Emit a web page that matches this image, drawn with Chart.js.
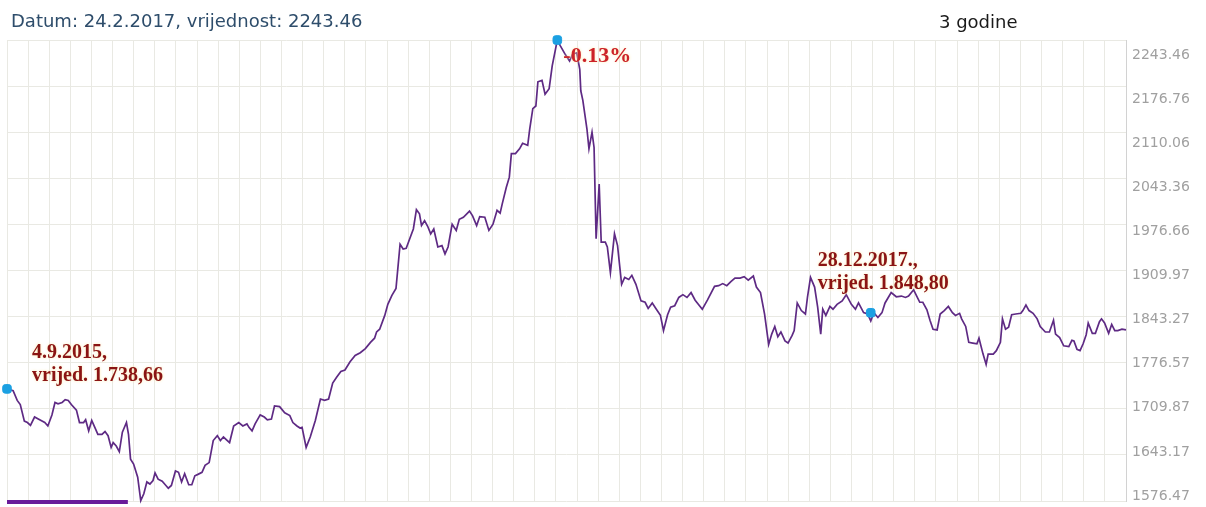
<!DOCTYPE html>
<html>
<head>
<meta charset="utf-8">
<script src="https://cdn.jsdelivr.net/npm/chart.js@4.4.1/dist/chart.umd.min.js"></script>
<style>
  html, body { margin: 0; padding: 0; background: #fff; }
  #wrap { width: 1206px; height: 507px; position: relative; }
</style>
</head>
<body>
<div id="wrap"><canvas id="chart"></canvas></div>
<script>
// days since 4.9.2015 (3 year window)
const days = [
  0,6,10,13,17,20,23,27,32,37,40,44,47,50,54,57,60,63,68,71,75,77,80,83,86,89,93,96,99,102,
  104,107,110,113,117,119,121,124,128,131,134,137,140,143,145,148,152,155,158,161,165,168,171,174,178,181,184,187,191,194,
  198,202,206,209,212,218,222,227,231,235,237,240,243,248,252,255,259,262,267,272,277,280,284,287,289,293,
  297,302,307,311,315,319,323,327,331,336,341,346,351,356,360,362,365,370,373,377,381,385,388,391,395,398,401,404,406,409,
  412,415,418,422,426,429,432,436,440,443,447,453,456,460,463,468,472,476,480,483,485,489,492,494,498,502,505,510,
  512,515,518,520,524,527,531,534,539,542,547,551,554,558,561,562,564,568,570,573,575,577,580,582,586,588,591,595,598,602,
  605,609,612,616,621,625,628,632,636,640,643,647,650,654,658,662,666,670,674,681,686,693,697,701,705,709,713,718,722,726,
  731,734,738,742,746,749,752,755,758,762,765,769,771,774,778,782,784,787,791,794,797,799,802,806,809,813,818,822,827,831,
  834,839,843,846,849,853,857,860,866,871,876,880,883,888,891,894,897,901,904,907,911,914,918,922,926,929,933,935,939,942,
  946,950,952,956,959,961,966,969,973,975,978,981,984,988,993,995,998,1001,1005,1009,1012,1017,1021,1025,1027,1031,1035,1040,
  1043,1045,1048,1051,1054,1057,1059,1063,1066,1070,1072,1075,1079,1082,1085,1088,1092,1096
];
const values = [
  1738.66,1736,1722,1716,1692,1690,1686,1698,1694,1690,1685,1701,1719,1717,1719,1723,1722,1716,1708,1690,
  1690,1694,1678,1693,1683,1673,1673,1677,1671,1654,1661,1656,1648,1676,1690,1673,1637,1630,1611,1577,
  1587,1604,1601,1606,1617,1608,1605,1600,1595,1599,1620,1618,1604,1616,1600,1600,1613,1615,1618,1628,
  1632,1664,1671,1664,1669,1661,
  1685,1690,1685,1688,1683,1678,1688,1701,1698,1694,1695,1714,1713,1704,1700,1690,1685,1682,1683,1654,
  1669,1693,1724,1722,1724,1747,1756,1764,1766,1778,1787,1791,1797,1806,1812,1821,1825,1845,1861,1874,
  1884,1948,1941,1942,1958,1970,1998,1992,1975,1982,1974,1963,1970,1944,1946,1934,1944,1977,
  1968,1984,1987,1996,1989,1975,1988,1987,1968,1977,1997,1993,2006,2030,2045,2079,2079,2086,2094,2091,
  2115,2144,2148,2183,2185,2165,2173,2206,2243.46,2235,2222,2213,2223,2225,2201,2170,2156,2115,2086,2110,
  2088,1956,2035,1951,1951,1944,1907,1963,1946,1890,1900,1897,1903,1890,1866,1864,1855,1863,1854,1845,
  1823,1846,1857,1859,
  1871,1875,1871,1878,1867,1854,1867,1887,1888,1891,1888,1894,1899,1899,1901,1896,1902,1886,1878,1847,
  1803,1818,1829,1814,1821,1808,1805,1816,1823,1863,1852,1847,1871,1900,1886,1857,1818,1854,1845,1858,
  1854,1861,1866,1875,1861,1854,1863,1849,1847,1837,1849,1842,1849,1863,1878,1872,1873,1871,
  1873,1882,1873,1864,1864,1853,1838,1825,1824,1847,1852,1858,1849,1845,1848,1840,1829,1806,1805,1804,
  1812,1789,1774,1789,1789,1794,1806,1840,1825,1828,1846,1847,1848,1852,1860,1852,1848,1840,1829,1821,
  1821,1838,1818,1813,1801,1800,1809,1808,1796,1794,1804,1817,1834,1819,1819,1836,1840,1834,1819,1832,
  1823,1823,1825,1824
];
const yTicks = [2243.46, 2176.76, 2110.06, 2043.36, 1976.66, 1909.97, 1843.27, 1776.57, 1709.87, 1643.17, 1576.47];
const markerDays = [0, 539, 846];
const markerValues = [1738.66, 2243.46, 1848.80];

const headerText = 'Datum: 24.2.2017, vrijednost: 2243.46';
const rangeText = '3 godine';
const changeText = '-0.13%';
const startNote = ['4.9.2015,', 'vrijed. 1.738,66'];
const endNote = ['28.12.2017.,', 'vrijed. 1.848,80'];

const xMax = 1096;
const xGridCount = 53;
// the labels sit a little off their grid lines in the original, so they live on their own axis
const labelAxisMin = 1568.92;
const labelAxisMax = 2266.1;
const gridColor = '#e9e9e3';

const noPad = s => { s.paddingTop = 0; s.paddingBottom = 0; s.paddingLeft = 0; s.paddingRight = 0; };

const overlay = {
  id: 'overlay',
  afterDraw(chart) {
    const { ctx, chartArea: a, scales } = chart;
    const px = d => scales.x.getPixelForValue(d);
    const py = v => scales.y.getPixelForValue(v);
    ctx.save();
    ctx.textBaseline = 'alphabetic';
    ctx.font = '18px "DejaVu Sans"';
    ctx.fillStyle = '#2e4d6b';
    ctx.fillText(headerText, 11, 27);
    ctx.fillStyle = '#1a1a1a';
    ctx.fillText(rangeText, 939, 28);

    // selected range bar under the plot
    ctx.fillStyle = '#6a1b9a';
    ctx.fillRect(a.left, a.bottom - 1, (a.right - a.left) * 0.108, 4);

    ctx.shadowColor = 'rgba(255, 235, 170, 0.95)';
    ctx.shadowBlur = 3;
    ctx.font = 'bold 20px "Liberation Serif"';
    ctx.fillStyle = '#8a1414';
    let x0 = px(markerDays[0]), y0 = py(markerValues[0]);
    ctx.fillText(startNote[0], x0 + 25, y0 - 31);
    ctx.fillText(startNote[1], x0 + 25, y0 - 8);
    let x2 = px(markerDays[2]), y2 = py(markerValues[2]);
    ctx.fillText(endNote[0], x2 - 53, y2 - 47);
    ctx.fillText(endNote[1], x2 - 53, y2 - 24);

    ctx.font = 'bold 22px "Liberation Serif"';
    ctx.fillStyle = '#cc2229';
    ctx.fillText(changeText, px(markerDays[1]) + 6, py(markerValues[1]) + 22);
    ctx.restore();
  }
};

new Chart(document.getElementById('chart'), {
  type: 'line',
  data: {
    datasets: [
      {
        data: days.map((d, i) => ({ x: d, y: values[i] })),
        borderColor: '#5e2a84',
        borderWidth: 1.7,
        pointRadius: 0,
        tension: 0,
        clip: false,
        order: 2
      },
      {
        type: 'scatter',
        data: markerDays.map((d, i) => ({ x: d, y: markerValues[i] })),
        backgroundColor: '#1ba0e2',
        borderColor: '#1ba0e2',
        pointStyle: 'rectRounded',
        pointRadius: 5,
        clip: false,
        order: 1
      }
    ]
  },
  options: {
    responsive: true,
    maintainAspectRatio: false,
    animation: false,
    layout: { padding: { left: 7, top: 40, right: 0, bottom: 5 } },
    plugins: { legend: { display: false }, tooltip: { enabled: false } },
    scales: {
      x: {
        type: 'linear',
        min: 0,
        max: xMax,
        afterBuildTicks: s => {
          s.ticks = Array.from({ length: xGridCount + 1 }, (_, i) => ({ value: i * xMax / xGridCount }));
        },
        ticks: { display: false },
        grid: { color: gridColor, drawTicks: false },
        border: { display: false },
        afterFit: s => { s.height = 0; noPad(s); }
      },
      y: {
        position: 'left',
        min: yTicks[yTicks.length - 1],
        max: yTicks[0],
        afterBuildTicks: s => { s.ticks = yTicks.map(v => ({ value: v })); },
        ticks: { display: false },
        grid: { color: gridColor, drawTicks: false },
        border: { display: false },
        afterFit: s => { s.width = 0; noPad(s); }
      },
      yLabels: {
        position: 'right',
        min: labelAxisMin,
        max: labelAxisMax,
        afterBuildTicks: s => { s.ticks = yTicks.map(v => ({ value: v })); },
        ticks: {
          color: '#a0a0a0',
          font: { family: 'DejaVu Sans', size: 14 },
          padding: 6,
          callback: v => v.toFixed(2)
        },
        grid: { display: false, drawTicks: false },
        border: { display: true, color: '#d2d2d2' },
        afterFit: s => { s.width = 80; noPad(s); }
      }
    }
  },
  plugins: [overlay]
});
</script>
</body>
</html>
